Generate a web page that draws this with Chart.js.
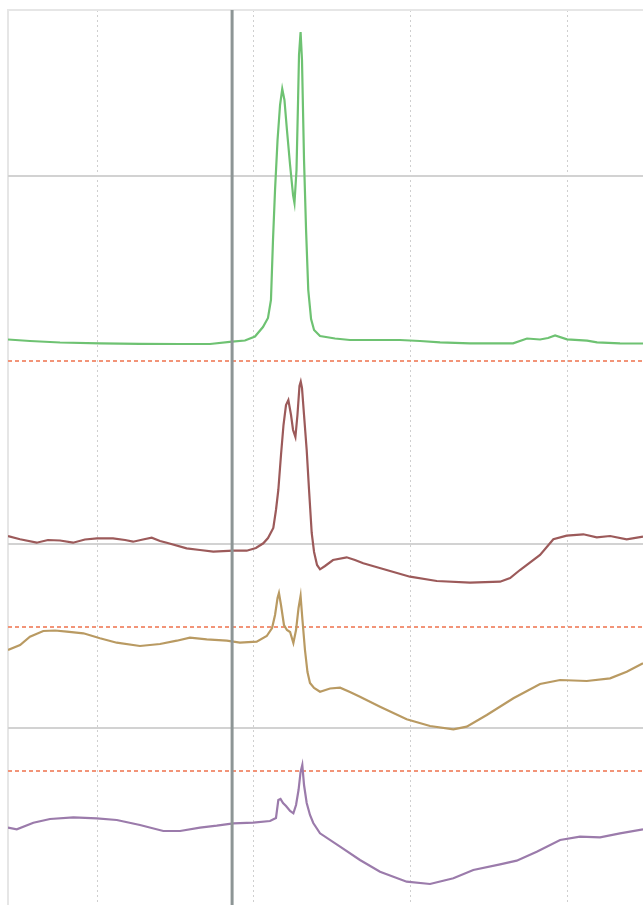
<!DOCTYPE html>
<html>
<head>
<meta charset="utf-8">
<script src="https://cdn.jsdelivr.net/npm/chart.js@4"></script>
<style>
  html, body { margin: 0; padding: 0; background: #fff; overflow: hidden; }
  #wrap { position: relative; width: 643px; height: 905px; }
</style>
</head>
<body>
<div id="wrap"><canvas id="traceChart"></canvas></div>
<script>
// Time axis (one grid division = 100 units)
const timeMin = -56.8;
const timeMax = 348.4;
const gridTimes = [0, 100, 200, 300];
const cursorTime = 86.2;

// Channel baselines
const zeroLevels = [72.9, 36.1, 17.7];
const limitLevels = [54.4, 27.8, 13.4];

// Green channel
const greenTimes = [-56.8, -42.8, -23.6, 1.9, 27.4, 53.0, 72.1, 86.2, 94.4, 100.8, 105.9, 109.1, 111.0, 112.3, 113.6, 115.2, 116.8, 118.2, 119.6, 121.2, 123.2, 125.1, 126.0, 127.3, 128.3, 128.9, 129.9, 130.8, 132.1, 133.4, 134.8, 136.6, 138.5, 142.3, 151.9, 161.4, 180.6, 193.3, 206.1, 218.9, 238.0, 265.5, 274.4, 282.7, 287.8, 292.3, 299.9, 312.7, 319.1, 333.7, 348.4];
const greenValues = [56.55, 56.4, 56.25, 56.17, 56.12, 56.1, 56.1, 56.33, 56.45, 56.85, 57.8, 58.7, 60.5, 66.5, 71.5, 76.5, 80.0, 81.6, 80.5, 77.5, 74.0, 71.0, 70.2, 73.5, 80.5, 85.0, 87.3, 84.5, 74.5, 67.5, 61.5, 58.6, 57.5, 56.9, 56.65, 56.5, 56.5, 56.5, 56.4, 56.27, 56.17, 56.17, 56.65, 56.55, 56.7, 56.95, 56.57, 56.43, 56.27, 56.17, 56.15];

// Brown channel
const brownTimes = [-56.8, -49.1, -38.5, -31.3, -23.6, -15.3, -7.7, 0, 10.2, 17.9, 23.0, 29.3, 34.9, 40.2, 44.5, 57.2, 65.7, 74.2, 87.0, 95.5, 101.4, 106.1, 109.1, 112.5, 114.2, 115.7, 117.4, 119.0, 120.6, 122.1, 123.8, 125.1, 126.6, 127.9, 129.2, 130.0, 130.8, 132.1, 133.8, 135.3, 137.0, 138.5, 140.4, 142.3, 145.5, 150.6, 159.3, 164.6, 169.9, 184.8, 199.7, 216.8, 238.0, 257.2, 263.6, 269.9, 282.7, 291.2, 299.7, 310.3, 318.9, 327.4, 338.0, 348.4];
const brownValues = [36.9, 36.57, 36.23, 36.5, 36.45, 36.23, 36.55, 36.67, 36.67, 36.5, 36.33, 36.55, 36.73, 36.4, 36.23, 35.67, 35.5, 35.33, 35.43, 35.43, 35.7, 36.17, 36.7, 37.7, 39.5, 41.5, 45.0, 48.0, 50.0, 50.5, 49.0, 47.5, 46.8, 49.0, 51.9, 52.33, 51.7, 49.0, 45.5, 41.5, 37.2, 35.3, 34.0, 33.57, 33.9, 34.5, 34.77, 34.5, 34.17, 33.5, 32.83, 32.4, 32.23, 32.33, 32.7, 33.5, 35.0, 36.57, 36.93, 37.07, 36.77, 36.9, 36.57, 36.83];

// Tan channel
const tanTimes = [-56.8, -49.1, -42.8, -34.3, -26.8, -19.3, -8.7, 1.9, 12.6, 27.4, 40.2, 50.9, 59.3, 70.0, 82.8, 91.2, 101.9, 108.3, 111.7, 113.6, 115.2, 116.1, 117.4, 119.3, 121.2, 123.2, 125.3, 127.0, 128.6, 129.9, 131.1, 132.7, 134.3, 135.9, 138.5, 142.3, 148.7, 155.1, 161.4, 167.8, 180.6, 197.6, 212.5, 227.4, 235.9, 248.7, 265.7, 282.7, 295.5, 312.5, 327.4, 338.0, 348.4];
const tanValues = [25.5, 26.0, 26.83, 27.4, 27.45, 27.33, 27.17, 26.67, 26.23, 25.9, 26.1, 26.43, 26.73, 26.57, 26.43, 26.23, 26.33, 26.9, 27.7, 29.0, 30.7, 31.2, 30.0, 28.0, 27.5, 27.3, 26.2, 27.5, 29.7, 30.9, 28.5, 25.5, 23.3, 22.2, 21.7, 21.33, 21.65, 21.73, 21.3, 20.83, 19.83, 18.57, 17.9, 17.57, 17.83, 19.0, 20.67, 22.1, 22.5, 22.4, 22.67, 23.33, 24.17];

// Purple channel
const purpleTimes = [-56.8, -51.2, -40.6, -30.0, -15.1, -0.2, 12.6, 27.4, 42.3, 53.0, 65.7, 76.4, 87.0, 99.7, 110.4, 114.2, 115.7, 117.1, 118.7, 120.6, 123.2, 125.3, 127.0, 128.6, 129.9, 131.0, 132.1, 133.8, 135.9, 138.0, 142.3, 155.1, 167.8, 180.6, 197.6, 212.5, 227.4, 240.1, 257.2, 267.8, 280.6, 295.5, 308.2, 321.0, 333.7, 348.4];
const purpleValues = [7.73, 7.57, 8.23, 8.6, 8.77, 8.67, 8.5, 8.0, 7.4, 7.4, 7.73, 7.93, 8.17, 8.23, 8.4, 8.7, 10.5, 10.6, 10.2, 9.9, 9.4, 9.17, 10.0, 11.5, 13.3, 14.0, 12.0, 10.2, 9.0, 8.2, 7.17, 5.83, 4.5, 3.33, 2.33, 2.1, 2.67, 3.5, 4.07, 4.43, 5.33, 6.5, 6.83, 6.77, 7.17, 7.57];

const valueMin = 0;
const valueMax = 89.5;

function toPoints(xs, ys) {
    return xs.map((x, i) => ({ x: x, y: ys[i] }));
}

function levelLine(v) {
    return [{ x: timeMin, y: v }, { x: timeMax, y: v }];
}

function traceSet(xs, ys, color) {
    return {
        data: toPoints(xs, ys),
        borderColor: color,
        borderWidth: 2.2,
        pointRadius: 0,
        tension: 0,
        order: 1
    };
}

const datasets = [];

// Solid gray zero lines
zeroLevels.forEach(v => {
    datasets.push({
        data: levelLine(v),
        borderColor: '#d2d2d2',
        borderWidth: 2,
        pointRadius: 0,
        order: 5
    });
});

// Dotted orange limit lines
limitLevels.forEach(v => {
    datasets.push({
        data: levelLine(v),
        borderColor: '#f29478',
        borderWidth: 2,
        borderDash: [4, 3],
        pointRadius: 0,
        order: 4
    });
});

// Cursor
datasets.push({
    data: [{ x: cursorTime, y: valueMin }, { x: cursorTime, y: valueMax }],
    borderColor: '#8d9595',
    borderWidth: 3,
    pointRadius: 0,
    order: 0
});

datasets.push(traceSet(greenTimes, greenValues, '#6ec272'));
datasets.push(traceSet(brownTimes, brownValues, '#9c5a5a'));
datasets.push(traceSet(tanTimes, tanValues, '#b99a62'));
datasets.push(traceSet(purpleTimes, purpleValues, '#9b7bab'));

// Frame on the left and top edges of the plot
const framePlugin = {
    id: 'frame',
    beforeDatasetsDraw(chart) {
        const { ctx, chartArea } = chart;
        ctx.save();
        ctx.strokeStyle = '#e6e6e6';
        ctx.lineWidth = 2;
        ctx.beginPath();
        ctx.moveTo(chartArea.left, chartArea.bottom);
        ctx.lineTo(chartArea.left, chartArea.top);
        ctx.lineTo(chartArea.right, chartArea.top);
        ctx.stroke();
        ctx.restore();
    }
};

const ctx = document.getElementById('traceChart').getContext('2d');
new Chart(ctx, {
    type: 'line',
    data: { datasets: datasets },
    options: {
        responsive: true,
        maintainAspectRatio: false,
        animation: false,
        events: [],
        layout: { padding: { left: 8, top: 10, right: 0, bottom: 0 } },
        plugins: {
            legend: { display: false },
            tooltip: { enabled: false }
        },
        scales: {
            x: {
                type: 'linear',
                min: timeMin,
                max: timeMax,
                afterBuildTicks: scale => {
                    scale.ticks = gridTimes.map(v => ({ value: v }));
                },
                ticks: { display: false },
                grid: { color: '#cfcfcf', lineWidth: 1, drawTicks: false },
                border: { display: false, dash: [2, 3] }
            },
            y: {
                min: valueMin,
                max: valueMax,
                ticks: { display: false },
                grid: { display: false, drawTicks: false },
                border: { display: false }
            }
        }
    },
    plugins: [framePlugin]
});
</script>
</body>
</html>
